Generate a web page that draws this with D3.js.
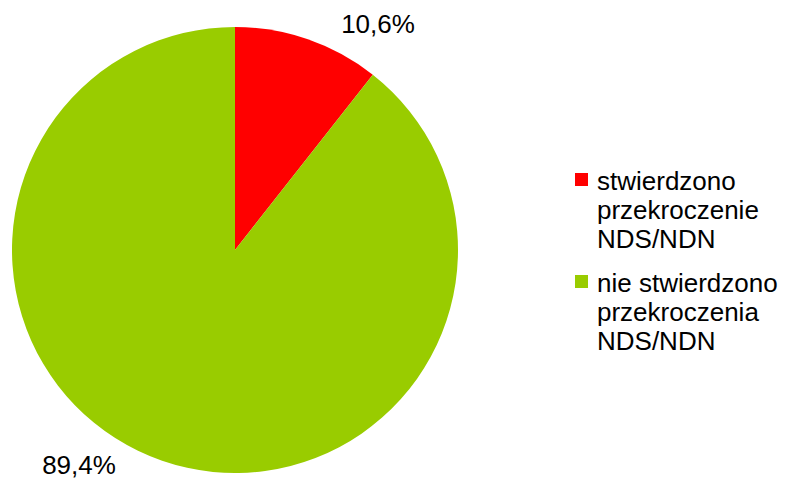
<!DOCTYPE html>
<html><head><meta charset="utf-8">
<script src="https://cdn.jsdelivr.net/npm/d3@7"></script>
<style>body{margin:0;background:#fff}svg{display:block}text{font-family:"Liberation Sans",Arial,sans-serif;fill:#000}</style>
</head><body><svg id="c" width="785" height="479"></svg>
<script>
const categories = ["stwierdzono przekroczenie NDS/NDN", "nie stwierdzono przekroczenia NDS/NDN"];
const legendLines = [["stwierdzono","przekroczenie","NDS/NDN"],["nie stwierdzono","przekroczenia","NDS/NDN"]];
const values = [10.6, 89.4];
const valueLabels = ["10,6%", "89,4%"];
const colors = ["#ff0000", "#99cc00"];

const svg = d3.select("#c");
const cx = 235, cy = 250, r = 223;
const pie = d3.pie().sort(null).value(d => d)(values);
const arc = d3.arc().innerRadius(0).outerRadius(r);
const g = svg.append("g").attr("transform", `translate(${cx},${cy})`);
g.selectAll("path").data(pie).enter().append("path")
  .attr("d", arc).attr("fill", (d,i) => colors[i]);

// percent labels placed outside
const labelPos = [[143, -217], [-156, 224]];
g.selectAll("text.pct").data(pie).enter().append("text")
  .attr("class","pct")
  .attr("x", (d,i) => labelPos[i][0]).attr("y", (d,i) => labelPos[i][1])
  .attr("text-anchor","middle").attr("font-size", 26)
  .text((d,i) => valueLabels[i]);

const leg = svg.append("g").attr("transform","translate(575,0)");
const itemY = [190, 292];
const lh = 29;
categories.forEach((c,i) => {
  leg.append("rect").attr("x",0).attr("y",itemY[i]-17).attr("width",13).attr("height",13).attr("fill",colors[i]);
  const t = leg.append("text").attr("x",22).attr("y",itemY[i]).attr("font-size",26);
  legendLines[i].forEach((l,j) => t.append("tspan").attr("x",22).attr("y", itemY[i] + j*lh).text(l));
});
</script></body></html>
